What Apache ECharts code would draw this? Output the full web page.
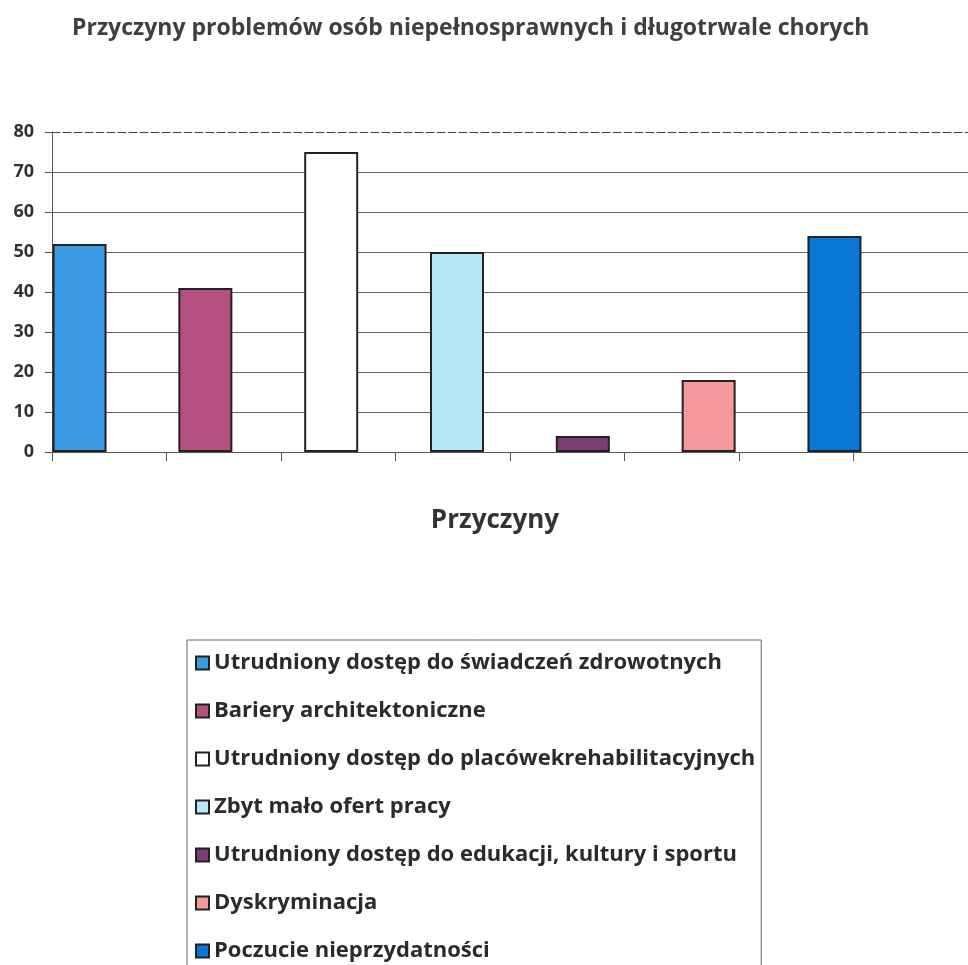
<!DOCTYPE html>
<html>
<head>
<meta charset="utf-8">
<script src="https://cdn.jsdelivr.net/npm/echarts@6/dist/echarts.min.js"></script>
<style>
  html, body { margin: 0; padding: 0; background: #fff; }
  #chart { width: 968px; height: 965px; }
</style>
</head>
<body>
<div id="chart"></div>
<script>
  // dane
  var categories = ['Przyczyny'];
  var seriesNames = [
    'Utrudniony dostęp do świadczeń zdrowotnych',
    'Bariery architektoniczne',
    'Utrudniony dostęp do placówekrehabilitacyjnych',
    'Zbyt mało ofert pracy',
    'Utrudniony dostęp do edukacji, kultury i sportu',
    'Dyskryminacja',
    'Poczucie nieprzydatności'
  ];
  var values = [52, 41, 75, 50, 4, 18, 54];
  var yTicks = [0, 10, 20, 30, 40, 50, 60, 70, 80];

  var colors = ['#3b9ae1', '#b4507f', '#ffffff', '#b5e9f8', '#7a3e74', '#f6999c', '#0a77d5'];
  var font = '"Open Sans", sans-serif';

  var chart = echarts.init(document.getElementById('chart'));

  var series = seriesNames.map(function (name, i) {
    return {
      name: name,
      type: 'bar',
      xAxisIndex: 0,
      yAxisIndex: 0,
      barWidth: 54,
      barGap: '133%',
      data: [values[i]],
      itemStyle: {
        color: colors[i],
        borderColor: '#222',
        borderWidth: 2
      }
    };
  });

  chart.setOption({
    animation: false,
    backgroundColor: '#fff',
    title: {
      text: 'Przyczyny problemów osób niepełnosprawnych i długotrwale chorych',
      left: 67,
      top: 12,
      textStyle: {
        fontFamily: font,
        fontWeight: 'bold',
        fontSize: 23,
        color: '#3f3f3f'
      }
    },
    legend: {
      orient: 'vertical',
      left: 187,
      top: 640,
      height: 340,
      padding: [11, 6, 30, 8],
      itemWidth: 13,
      itemHeight: 13,
      itemGap: 24,
      icon: 'rect',
      selectedMode: false,
      borderColor: '#666',
      borderWidth: 1,
      backgroundColor: '#fff',
      data: seriesNames,
      textStyle: {
        fontFamily: font,
        fontWeight: 'bold',
        fontSize: 22,
        lineHeight: 24,
        color: '#2b2b2b'
      }
    },
    grid: [
      // siatka dla słupków
      { left: 52, top: 132, width: 810, height: 320 },
      // ramka, linie siatki i osie
      { left: 52, top: 132, right: -9, height: 320 }
    ],
    xAxis: [
      {
        type: 'category',
        gridIndex: 0,
        data: categories,
        show: false
      },
      {
        type: 'value',
        gridIndex: 1,
        min: 0,
        max: 8,
        interval: 1,
        name: 'Przyczyny',
        nameLocation: 'middle',
        nameGap: 56,
        nameTextStyle: {
          fontFamily: font,
          fontWeight: 'bold',
          fontSize: 26,
          color: '#333',
          padding: [0, 30, 0, 0]
        },
        axisLine: { show: true, lineStyle: { color: '#555', width: 1 } },
        axisTick: { show: true, length: 9, lineStyle: { color: '#555' } },
        axisLabel: { show: false },
        splitLine: { show: false }
      },
      {
        type: 'value',
        gridIndex: 1,
        position: 'top',
        min: 0,
        max: 8,
        axisLine: { show: true, lineStyle: { color: '#444', width: 1, type: [8, 3] } },
        axisTick: { show: false },
        axisLabel: { show: false },
        splitLine: { show: false }
      }
    ],
    yAxis: [
      {
        type: 'value',
        gridIndex: 0,
        min: 0,
        max: 80,
        show: false
      },
      {
        type: 'value',
        gridIndex: 1,
        min: yTicks[0],
        max: yTicks[yTicks.length - 1],
        interval: 10,
        axisLine: { show: true, lineStyle: { color: '#555', width: 1 } },
        axisTick: { show: true, length: 7, lineStyle: { color: '#555' } },
        axisLabel: {
          margin: 18,
          fontFamily: font,
          fontWeight: 'bold',
          fontSize: 18,
          color: '#333'
        },
        splitLine: {
          show: true,
          showMaxLine: false,
          lineStyle: { color: '#666', width: 1 }
        }
      }
    ],
    series: series
  });
</script>
</body>
</html>
